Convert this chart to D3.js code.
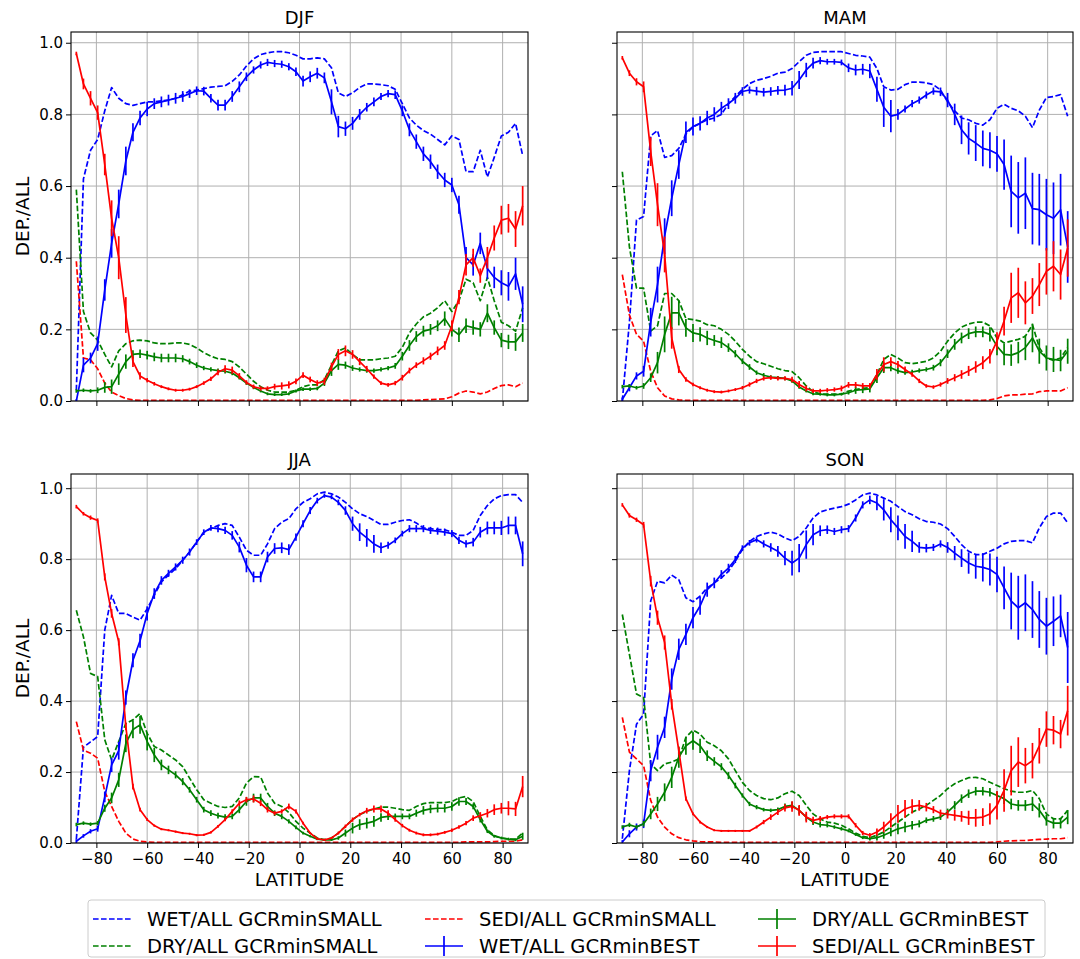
<!DOCTYPE html>
<html>
<head>
<meta charset="utf-8">
<script src="https://cdn.jsdelivr.net/npm/d3@7"></script>
<style>
  body { margin: 0; background: #fff; }
  svg { display: block; }
  text { font-family: "DejaVu Sans", sans-serif; fill: #000; }
</style>
</head>
<body>
<svg id="fig" width="1080" height="959"></svg>
<script>
// ---- latitude grid (Gaussian latitudes, degrees) ----
const latitudes = [-87.9,-85.1,-82.3,-79.5,-76.7,-74.0,-71.2,-68.4,
  -65.6,-62.8,-60.0,-57.2,-54.4,-51.6,-48.8,-46.0,
  -43.3,-40.5,-37.7,-34.9,-32.1,-29.3,-26.5,-23.7,
  -20.9,-18.1,-15.3,-12.6,-9.8,-7.0,-4.2,-1.4,
  1.4,4.2,7.0,9.8,12.6,15.3,18.1,20.9,
  23.7,26.5,29.3,32.1,34.9,37.7,40.5,43.3,
  46.0,48.8,51.6,54.4,57.2,60.0,62.8,65.6,
  68.4,71.2,74.0,76.7,79.5,82.3,85.1,87.9];

const seasons = ["DJF", "MAM", "JJA", "SON"];
const xTicks = [-80, -60, -40, -20, 0, 20, 40, 60, 80];
const yTicks = [0.0, 0.2, 0.4, 0.6, 0.8, 1.0];

// ---- DJF ----
const djfWetSmall = [0.03,0.62,0.70,0.73,0.81,0.875,0.845,0.83,
  0.825,0.83,0.835,0.835,0.838,0.84,0.845,0.855,
  0.865,0.868,0.872,0.876,0.878,0.88,0.892,0.91,
  0.935,0.955,0.967,0.972,0.975,0.975,0.972,0.965,
  0.955,0.955,0.958,0.955,0.93,0.86,0.85,0.86,
  0.875,0.885,0.885,0.883,0.88,0.87,0.83,0.79,
  0.77,0.755,0.745,0.73,0.715,0.74,0.73,0.64,
  0.64,0.70,0.625,0.68,0.74,0.75,0.775,0.685];
const djfDrySmall = [0.59,0.25,0.19,0.17,0.13,0.095,0.14,0.16,
  0.168,0.17,0.168,0.162,0.16,0.16,0.162,0.162,
  0.158,0.148,0.135,0.125,0.118,0.116,0.11,0.095,
  0.075,0.055,0.04,0.03,0.025,0.025,0.025,0.03,
  0.04,0.045,0.045,0.06,0.10,0.14,0.148,0.13,
  0.115,0.115,0.115,0.118,0.12,0.125,0.15,0.19,
  0.215,0.235,0.245,0.26,0.28,0.25,0.28,0.34,
  0.33,0.28,0.345,0.28,0.22,0.21,0.195,0.26];
const djfSediSmall = [0.39,0.12,0.115,0.09,0.05,0.025,0.015,0.007,
  0.003,0.002,0.002,0.002,0.002,0.002,0.002,0.002,
  0.002,0.002,0.002,0.002,0.002,0.002,0.002,0.002,
  0.002,0.002,0.002,0.002,0.002,0.002,0.002,0.002,
  0.002,0.002,0.002,0.002,0.002,0.002,0.002,0.002,
  0.002,0.002,0.002,0.002,0.002,0.002,0.002,0.002,
  0.002,0.003,0.004,0.005,0.006,0.012,0.022,0.028,
  0.025,0.02,0.025,0.035,0.043,0.045,0.04,0.05];
const djfWetBest = [0.0,0.10,0.12,0.16,0.31,0.44,0.55,0.67,
  0.75,0.79,0.815,0.83,0.835,0.84,0.845,0.85,
  0.858,0.866,0.865,0.845,0.826,0.826,0.85,0.877,
  0.905,0.924,0.938,0.945,0.942,0.94,0.933,0.919,
  0.893,0.905,0.915,0.902,0.835,0.766,0.76,0.775,
  0.80,0.82,0.835,0.85,0.858,0.855,0.81,0.757,
  0.724,0.69,0.668,0.64,0.617,0.603,0.548,0.40,
  0.38,0.44,0.37,0.345,0.33,0.32,0.355,0.27];
const djfWetBestErr = [0.005,0.02,0.015,0.02,0.03,0.04,0.04,0.04,
  0.025,0.02,0.02,0.015,0.015,0.015,0.015,0.015,
  0.012,0.012,0.012,0.012,0.015,0.015,0.015,0.015,
  0.012,0.01,0.01,0.01,0.01,0.01,0.01,0.012,
  0.015,0.015,0.015,0.015,0.035,0.03,0.02,0.018,
  0.015,0.012,0.012,0.01,0.01,0.012,0.015,0.018,
  0.02,0.02,0.02,0.02,0.02,0.02,0.025,0.03,
  0.03,0.03,0.03,0.03,0.035,0.04,0.045,0.05];
const djfDryBest = [0.028,0.03,0.028,0.03,0.038,0.04,0.075,0.11,
  0.13,0.132,0.128,0.123,0.12,0.12,0.12,0.118,
  0.11,0.1,0.092,0.088,0.085,0.083,0.078,0.065,
  0.05,0.038,0.028,0.02,0.018,0.018,0.02,0.028,
  0.033,0.033,0.035,0.05,0.085,0.102,0.10,0.092,
  0.088,0.085,0.085,0.088,0.092,0.098,0.125,0.155,
  0.18,0.195,0.2,0.21,0.23,0.2,0.185,0.21,
  0.205,0.2,0.245,0.205,0.17,0.165,0.165,0.19];
const djfDryBestErr = [0.005,0.005,0.005,0.008,0.015,0.02,0.03,0.02,
  0.012,0.012,0.012,0.012,0.012,0.012,0.012,0.01,
  0.008,0.008,0.006,0.006,0.006,0.006,0.006,0.005,
  0.005,0.005,0.004,0.004,0.004,0.004,0.004,0.004,
  0.005,0.005,0.005,0.008,0.015,0.015,0.01,0.008,
  0.006,0.006,0.006,0.006,0.006,0.008,0.012,0.015,
  0.015,0.015,0.015,0.015,0.02,0.02,0.02,0.02,
  0.02,0.02,0.025,0.02,0.02,0.02,0.025,0.025];
const djfSediBest = [0.97,0.885,0.845,0.805,0.66,0.51,0.40,0.24,
  0.11,0.07,0.058,0.048,0.04,0.034,0.03,0.03,
  0.033,0.04,0.05,0.062,0.08,0.09,0.086,0.07,
  0.052,0.04,0.035,0.035,0.04,0.042,0.045,0.055,
  0.072,0.06,0.05,0.055,0.095,0.13,0.14,0.13,
  0.11,0.09,0.068,0.05,0.045,0.05,0.065,0.085,
  0.1,0.112,0.125,0.14,0.155,0.21,0.29,0.38,
  0.40,0.35,0.40,0.455,0.505,0.51,0.48,0.545];
const djfSediBestErr = [0.005,0.015,0.02,0.02,0.03,0.05,0.06,0.05,
  0.015,0.01,0.006,0.005,0.004,0.004,0.004,0.004,
  0.004,0.004,0.005,0.006,0.008,0.01,0.01,0.008,
  0.006,0.006,0.006,0.006,0.008,0.01,0.01,0.008,
  0.008,0.008,0.008,0.01,0.012,0.015,0.015,0.012,
  0.01,0.008,0.006,0.005,0.005,0.006,0.008,0.008,
  0.008,0.01,0.01,0.012,0.012,0.015,0.02,0.03,
  0.025,0.02,0.03,0.035,0.04,0.04,0.05,0.055];

// ---- MAM ----
const mamWetSmall = [0.0,0.22,0.505,0.515,0.74,0.755,0.68,0.685,
  0.705,0.745,0.765,0.775,0.785,0.79,0.80,0.83,
  0.85,0.87,0.886,0.895,0.90,0.906,0.915,0.918,
  0.928,0.947,0.965,0.973,0.975,0.975,0.975,0.975,
  0.97,0.965,0.963,0.96,0.928,0.877,0.868,0.87,
  0.883,0.89,0.89,0.888,0.883,0.868,0.835,0.81,
  0.79,0.785,0.775,0.77,0.785,0.817,0.828,0.817,
  0.81,0.795,0.763,0.812,0.847,0.85,0.855,0.795];
const mamDrySmall = [0.64,0.43,0.315,0.315,0.195,0.21,0.30,0.30,
  0.28,0.23,0.227,0.223,0.213,0.21,0.20,0.186,
  0.167,0.144,0.125,0.11,0.104,0.097,0.09,0.085,
  0.082,0.065,0.042,0.026,0.02,0.019,0.019,0.019,
  0.028,0.032,0.035,0.037,0.074,0.116,0.13,0.12,
  0.107,0.104,0.107,0.111,0.12,0.139,0.167,0.19,
  0.206,0.215,0.22,0.22,0.21,0.176,0.162,0.167,
  0.172,0.181,0.213,0.149,0.12,0.113,0.12,0.149];
const mamSediSmall = [0.353,0.24,0.186,0.167,0.083,0.037,0.014,0.006,
  0.003,0.002,0.002,0.002,0.002,0.002,0.002,0.002,
  0.002,0.002,0.002,0.002,0.002,0.002,0.002,0.002,
  0.002,0.002,0.002,0.002,0.002,0.002,0.002,0.002,
  0.002,0.002,0.002,0.002,0.002,0.002,0.002,0.002,
  0.002,0.002,0.002,0.002,0.002,0.002,0.002,0.002,
  0.002,0.002,0.002,0.002,0.003,0.007,0.014,0.017,
  0.017,0.019,0.02,0.026,0.028,0.028,0.028,0.037];
const mamWetBest = [0.005,0.037,0.07,0.083,0.22,0.325,0.46,0.566,
  0.66,0.75,0.766,0.775,0.79,0.80,0.817,0.83,
  0.845,0.864,0.868,0.865,0.862,0.864,0.867,0.868,
  0.873,0.896,0.924,0.943,0.95,0.947,0.947,0.945,
  0.93,0.924,0.926,0.921,0.87,0.82,0.795,0.80,
  0.815,0.83,0.84,0.854,0.865,0.863,0.84,0.80,
  0.757,0.733,0.72,0.705,0.70,0.69,0.66,0.585,
  0.567,0.58,0.537,0.534,0.52,0.51,0.534,0.43];
const mamWetBestErr = [0.005,0.01,0.01,0.015,0.04,0.05,0.05,0.05,
  0.04,0.03,0.025,0.02,0.02,0.02,0.018,0.015,
  0.015,0.012,0.01,0.012,0.012,0.012,0.012,0.015,
  0.02,0.025,0.02,0.015,0.01,0.008,0.008,0.008,
  0.012,0.015,0.015,0.02,0.035,0.055,0.045,0.015,
  0.01,0.01,0.01,0.01,0.01,0.012,0.02,0.03,
  0.04,0.045,0.05,0.05,0.05,0.05,0.07,0.1,
  0.1,0.1,0.1,0.1,0.1,0.1,0.1,0.1];
const mamDryBest = [0.04,0.042,0.037,0.042,0.065,0.107,0.186,0.246,
  0.246,0.204,0.19,0.186,0.176,0.169,0.163,0.149,
  0.132,0.111,0.095,0.079,0.072,0.067,0.065,0.063,
  0.056,0.039,0.028,0.02,0.019,0.017,0.017,0.019,
  0.023,0.03,0.032,0.034,0.065,0.093,0.093,0.084,
  0.079,0.081,0.085,0.088,0.093,0.107,0.132,0.158,
  0.176,0.188,0.193,0.193,0.186,0.153,0.13,0.128,
  0.135,0.149,0.176,0.139,0.12,0.116,0.113,0.139];
const mamDryBestErr = [0.005,0.005,0.005,0.008,0.012,0.03,0.05,0.045,
  0.035,0.025,0.025,0.02,0.02,0.015,0.015,0.012,
  0.01,0.008,0.008,0.006,0.006,0.005,0.005,0.005,
  0.005,0.005,0.004,0.004,0.004,0.004,0.004,0.004,
  0.005,0.01,0.01,0.01,0.015,0.015,0.01,0.008,
  0.006,0.006,0.006,0.006,0.008,0.01,0.012,0.015,
  0.015,0.015,0.015,0.015,0.02,0.025,0.03,0.03,
  0.03,0.035,0.04,0.035,0.035,0.035,0.03,0.035];
const mamSediBest = [0.958,0.915,0.891,0.877,0.696,0.548,0.409,0.176,
  0.088,0.06,0.046,0.037,0.03,0.026,0.025,0.028,
  0.032,0.037,0.046,0.056,0.063,0.065,0.063,0.063,
  0.06,0.046,0.035,0.028,0.028,0.03,0.032,0.035,
  0.045,0.045,0.042,0.042,0.074,0.102,0.11,0.102,
  0.088,0.074,0.056,0.042,0.039,0.046,0.056,0.065,
  0.074,0.084,0.095,0.107,0.125,0.167,0.223,0.288,
  0.302,0.274,0.293,0.325,0.362,0.376,0.353,0.427];
const mamSediBestErr = [0.005,0.008,0.01,0.015,0.04,0.06,0.05,0.03,
  0.01,0.006,0.005,0.004,0.004,0.004,0.004,0.004,
  0.004,0.005,0.006,0.006,0.006,0.006,0.006,0.006,
  0.008,0.01,0.008,0.006,0.006,0.006,0.006,0.008,
  0.008,0.008,0.008,0.008,0.015,0.02,0.012,0.01,
  0.008,0.006,0.006,0.005,0.005,0.006,0.008,0.01,
  0.012,0.014,0.016,0.018,0.02,0.025,0.04,0.07,
  0.07,0.06,0.05,0.06,0.065,0.07,0.07,0.08];

// ---- JJA ----
const jjaWetSmall = [0.01,0.27,0.285,0.30,0.60,0.698,0.647,0.647,
  0.637,0.628,0.66,0.698,0.736,0.755,0.773,0.797,
  0.82,0.848,0.876,0.886,0.895,0.90,0.895,0.862,
  0.825,0.811,0.811,0.843,0.886,0.904,0.914,0.942,
  0.96,0.97,0.984,0.989,0.984,0.975,0.96,0.942,
  0.928,0.92,0.909,0.898,0.898,0.904,0.909,0.911,
  0.902,0.888,0.886,0.883,0.883,0.876,0.867,0.867,
  0.881,0.923,0.951,0.97,0.979,0.982,0.982,0.96];
const jjaDrySmall = [0.656,0.581,0.478,0.469,0.291,0.234,0.286,0.337,
  0.347,0.365,0.309,0.272,0.262,0.248,0.234,0.215,
  0.183,0.15,0.122,0.112,0.103,0.10,0.103,0.127,
  0.169,0.187,0.186,0.141,0.112,0.103,0.086,0.061,
  0.042,0.028,0.014,0.009,0.014,0.028,0.047,0.066,
  0.08,0.089,0.096,0.101,0.101,0.098,0.094,0.092,
  0.103,0.111,0.114,0.114,0.114,0.117,0.127,0.131,
  0.117,0.075,0.037,0.021,0.014,0.011,0.011,0.028];
const jjaSediSmall = [0.342,0.262,0.253,0.239,0.145,0.103,0.061,0.028,
  0.011,0.005,0.003,0.002,0.002,0.002,0.002,0.002,
  0.002,0.002,0.002,0.002,0.002,0.002,0.002,0.002,
  0.002,0.002,0.002,0.002,0.002,0.002,0.002,0.002,
  0.002,0.002,0.002,0.002,0.002,0.002,0.002,0.002,
  0.002,0.002,0.002,0.002,0.002,0.002,0.002,0.002,
  0.002,0.002,0.002,0.002,0.002,0.002,0.002,0.003,
  0.003,0.003,0.003,0.004,0.005,0.005,0.005,0.009];
const jjaWetBest = [0.005,0.02,0.033,0.04,0.13,0.22,0.26,0.41,
  0.515,0.57,0.647,0.703,0.74,0.76,0.778,0.797,
  0.82,0.848,0.876,0.888,0.886,0.881,0.867,0.834,
  0.783,0.75,0.75,0.806,0.83,0.832,0.827,0.862,
  0.90,0.937,0.965,0.979,0.975,0.96,0.937,0.90,
  0.876,0.86,0.843,0.832,0.839,0.853,0.872,0.886,
  0.886,0.886,0.881,0.879,0.876,0.872,0.853,0.843,
  0.848,0.876,0.888,0.888,0.888,0.895,0.895,0.815];
const jjaWetBestErr = [0.005,0.005,0.006,0.008,0.015,0.02,0.025,0.02,
  0.02,0.02,0.02,0.015,0.012,0.01,0.01,0.01,
  0.01,0.008,0.008,0.008,0.01,0.01,0.012,0.015,
  0.02,0.015,0.015,0.015,0.015,0.015,0.015,0.01,
  0.01,0.01,0.008,0.006,0.006,0.008,0.012,0.02,
  0.025,0.025,0.025,0.015,0.01,0.008,0.008,0.01,
  0.01,0.01,0.01,0.01,0.01,0.01,0.01,0.01,
  0.012,0.015,0.018,0.018,0.02,0.025,0.025,0.035];
const jjaDryBest = [0.052,0.056,0.053,0.056,0.098,0.127,0.178,0.281,
  0.32,0.333,0.286,0.248,0.22,0.206,0.192,0.173,
  0.15,0.122,0.094,0.084,0.077,0.073,0.075,0.094,
  0.117,0.127,0.127,0.103,0.084,0.075,0.061,0.044,
  0.028,0.019,0.011,0.009,0.009,0.014,0.028,0.042,
  0.052,0.056,0.061,0.072,0.075,0.075,0.075,0.075,
  0.084,0.092,0.096,0.098,0.098,0.103,0.117,0.117,
  0.103,0.066,0.033,0.019,0.014,0.011,0.009,0.019];
const jjaDryBestErr = [0.005,0.005,0.005,0.006,0.01,0.015,0.02,0.025,
  0.025,0.025,0.025,0.02,0.015,0.012,0.01,0.01,
  0.008,0.008,0.008,0.008,0.008,0.008,0.008,0.01,
  0.012,0.012,0.012,0.01,0.008,0.008,0.006,0.005,
  0.004,0.003,0.003,0.003,0.003,0.005,0.01,0.015,
  0.015,0.015,0.015,0.012,0.01,0.008,0.008,0.008,
  0.01,0.012,0.012,0.012,0.012,0.012,0.012,0.01,
  0.008,0.008,0.005,0.004,0.004,0.004,0.004,0.01];
const jjaSediBest = [0.948,0.928,0.917,0.909,0.75,0.647,0.567,0.328,
  0.159,0.094,0.066,0.049,0.039,0.036,0.032,0.028,
  0.026,0.022,0.023,0.03,0.047,0.066,0.089,0.112,
  0.122,0.124,0.112,0.094,0.084,0.089,0.103,0.089,
  0.056,0.028,0.012,0.009,0.014,0.028,0.047,0.066,
  0.08,0.091,0.096,0.096,0.084,0.066,0.049,0.036,
  0.028,0.023,0.023,0.025,0.03,0.036,0.045,0.056,
  0.07,0.077,0.084,0.094,0.098,0.098,0.096,0.159];
const jjaSediBestErr = [0.005,0.005,0.006,0.006,0.01,0.012,0.01,0.01,
  0.008,0.005,0.004,0.003,0.003,0.003,0.003,0.003,
  0.003,0.003,0.003,0.003,0.004,0.005,0.006,0.008,
  0.008,0.01,0.008,0.008,0.006,0.006,0.008,0.006,
  0.004,0.003,0.003,0.003,0.003,0.004,0.005,0.006,
  0.005,0.008,0.01,0.01,0.008,0.006,0.005,0.004,
  0.004,0.004,0.004,0.004,0.004,0.005,0.005,0.006,
  0.008,0.01,0.012,0.015,0.015,0.02,0.02,0.03];

// ---- SON ----
const sonWetSmall = [0.012,0.204,0.335,0.363,0.682,0.738,0.733,0.755,
  0.742,0.691,0.68,0.696,0.719,0.733,0.747,0.766,
  0.794,0.827,0.85,0.864,0.871,0.876,0.871,0.86,
  0.852,0.864,0.888,0.916,0.933,0.939,0.944,0.948,
  0.955,0.967,0.981,0.986,0.981,0.972,0.963,0.948,
  0.934,0.925,0.914,0.906,0.904,0.899,0.886,0.864,
  0.841,0.822,0.813,0.813,0.822,0.831,0.843,0.85,
  0.852,0.852,0.846,0.888,0.92,0.93,0.93,0.902];
const sonDrySmall = [0.644,0.532,0.42,0.41,0.223,0.204,0.223,0.228,
  0.237,0.298,0.318,0.307,0.284,0.274,0.26,0.237,
  0.204,0.171,0.148,0.134,0.125,0.122,0.127,0.139,
  0.146,0.134,0.106,0.082,0.068,0.059,0.056,0.05,
  0.04,0.028,0.019,0.015,0.022,0.031,0.045,0.059,
  0.073,0.087,0.096,0.106,0.12,0.134,0.153,0.167,
  0.176,0.184,0.185,0.181,0.171,0.162,0.153,0.146,
  0.143,0.143,0.148,0.125,0.082,0.068,0.068,0.092];
const sonSediSmall = [0.354,0.256,0.237,0.218,0.12,0.073,0.045,0.026,
  0.015,0.009,0.006,0.004,0.003,0.003,0.002,0.002,
  0.002,0.002,0.002,0.002,0.002,0.002,0.002,0.002,
  0.002,0.002,0.002,0.002,0.002,0.002,0.002,0.002,
  0.002,0.002,0.002,0.002,0.002,0.002,0.002,0.002,
  0.002,0.002,0.002,0.002,0.002,0.002,0.002,0.002,
  0.002,0.002,0.002,0.002,0.002,0.003,0.005,0.006,
  0.007,0.007,0.009,0.01,0.011,0.012,0.012,0.015];
const sonWetBest = [0.003,0.026,0.045,0.054,0.204,0.27,0.326,0.462,
  0.546,0.588,0.635,0.668,0.714,0.733,0.757,0.775,
  0.799,0.831,0.846,0.855,0.843,0.833,0.822,0.803,
  0.789,0.803,0.841,0.869,0.88,0.883,0.878,0.883,
  0.886,0.916,0.953,0.967,0.958,0.939,0.911,0.888,
  0.864,0.85,0.833,0.831,0.833,0.843,0.833,0.817,
  0.803,0.789,0.78,0.777,0.771,0.757,0.719,0.682,
  0.663,0.677,0.658,0.63,0.611,0.625,0.64,0.551];
const sonWetBestErr = [0.005,0.01,0.01,0.012,0.03,0.035,0.03,0.03,
  0.03,0.03,0.03,0.025,0.02,0.015,0.012,0.012,
  0.01,0.008,0.008,0.008,0.01,0.012,0.015,0.02,
  0.035,0.04,0.04,0.03,0.015,0.012,0.01,0.01,
  0.01,0.01,0.01,0.012,0.02,0.03,0.035,0.035,
  0.035,0.03,0.015,0.012,0.01,0.01,0.015,0.02,
  0.025,0.03,0.035,0.04,0.045,0.05,0.06,0.08,
  0.09,0.08,0.08,0.08,0.08,0.07,0.06,0.1];
const sonDryBest = [0.045,0.051,0.045,0.054,0.082,0.11,0.143,0.185,
  0.242,0.274,0.288,0.274,0.246,0.23,0.215,0.19,
  0.162,0.134,0.11,0.101,0.094,0.092,0.094,0.103,
  0.106,0.092,0.073,0.059,0.052,0.05,0.045,0.04,
  0.034,0.024,0.015,0.012,0.015,0.022,0.031,0.04,
  0.045,0.05,0.054,0.064,0.068,0.073,0.087,0.106,
  0.125,0.139,0.146,0.146,0.143,0.134,0.125,0.11,
  0.106,0.106,0.11,0.092,0.064,0.056,0.056,0.073];
const sonDryBestErr = [0.005,0.006,0.006,0.008,0.015,0.02,0.025,0.03,
  0.03,0.025,0.025,0.02,0.015,0.012,0.01,0.01,
  0.008,0.006,0.006,0.006,0.005,0.005,0.006,0.008,
  0.01,0.012,0.01,0.008,0.008,0.006,0.005,0.005,
  0.004,0.004,0.004,0.005,0.008,0.01,0.012,0.015,
  0.015,0.012,0.01,0.008,0.008,0.008,0.01,0.012,
  0.012,0.012,0.012,0.012,0.012,0.012,0.015,0.015,
  0.015,0.015,0.02,0.02,0.015,0.015,0.015,0.02];
const sonSediBest = [0.953,0.923,0.911,0.897,0.738,0.635,0.565,0.391,
  0.26,0.125,0.082,0.059,0.045,0.036,0.034,0.034,
  0.034,0.034,0.034,0.045,0.059,0.073,0.087,0.099,
  0.103,0.092,0.073,0.064,0.068,0.073,0.075,0.075,
  0.075,0.05,0.028,0.022,0.031,0.045,0.064,0.082,
  0.096,0.103,0.106,0.101,0.094,0.084,0.081,0.078,
  0.075,0.071,0.071,0.073,0.082,0.106,0.148,0.204,
  0.228,0.218,0.232,0.274,0.321,0.318,0.307,0.373];
const sonSediBestErr = [0.005,0.006,0.006,0.008,0.015,0.02,0.02,0.015,
  0.01,0.006,0.004,0.004,0.003,0.003,0.003,0.003,
  0.003,0.003,0.003,0.004,0.006,0.008,0.008,0.01,
  0.015,0.015,0.015,0.01,0.008,0.006,0.006,0.006,
  0.006,0.006,0.006,0.006,0.01,0.015,0.02,0.025,
  0.025,0.02,0.015,0.012,0.01,0.01,0.012,0.015,
  0.015,0.02,0.025,0.025,0.03,0.04,0.06,0.07,
  0.07,0.05,0.05,0.05,0.05,0.04,0.04,0.07];

// ---- series styling and legend labels ----
const BLUE = "#0000ff", GREEN = "#008000", RED = "#ff0000";
const seriesStyle = [
  { key: "wetSmall",  label: "WET/ALL GCRminSMALL",  color: BLUE,  dashed: true },
  { key: "drySmall",  label: "DRY/ALL GCRminSMALL",  color: GREEN, dashed: true },
  { key: "sediSmall", label: "SEDI/ALL GCRminSMALL", color: RED,   dashed: true },
  { key: "wetBest",   label: "WET/ALL GCRminBEST",   color: BLUE,  dashed: false },
  { key: "dryBest",   label: "DRY/ALL GCRminBEST",   color: GREEN, dashed: false },
  { key: "sediBest",  label: "SEDI/ALL GCRminBEST",  color: RED,   dashed: false }
];

const seasonData = {
  DJF: { wetSmall: djfWetSmall, drySmall: djfDrySmall, sediSmall: djfSediSmall,
         wetBest: djfWetBest, wetBestErr: djfWetBestErr, dryBest: djfDryBest, dryBestErr: djfDryBestErr,
         sediBest: djfSediBest, sediBestErr: djfSediBestErr },
  MAM: { wetSmall: mamWetSmall, drySmall: mamDrySmall, sediSmall: mamSediSmall,
         wetBest: mamWetBest, wetBestErr: mamWetBestErr, dryBest: mamDryBest, dryBestErr: mamDryBestErr,
         sediBest: mamSediBest, sediBestErr: mamSediBestErr },
  JJA: { wetSmall: jjaWetSmall, drySmall: jjaDrySmall, sediSmall: jjaSediSmall,
         wetBest: jjaWetBest, wetBestErr: jjaWetBestErr, dryBest: jjaDryBest, dryBestErr: jjaDryBestErr,
         sediBest: jjaSediBest, sediBestErr: jjaSediBestErr },
  SON: { wetSmall: sonWetSmall, drySmall: sonDrySmall, sediSmall: sonSediSmall,
         wetBest: sonWetBest, wetBestErr: sonWetBestErr, dryBest: sonDryBest, dryBestErr: sonDryBestErr,
         sediBest: sonSediBest, sediBestErr: sonSediBestErr }
};

// ---- layout of the 2x2 grid ----
const panelLayout = [
  { box: [71, 32, 528, 401],   ymax: 1.03, row: 0, col: 0 },
  { box: [617, 32, 1073, 401], ymax: 1.03, row: 0, col: 1 },
  { box: [71, 474, 528, 843],  ymax: 1.04, row: 1, col: 0 },
  { box: [617, 474, 1073, 843], ymax: 1.04, row: 1, col: 1 }
];

const svg = d3.select("#fig");
const LW = 1.7;
const DASH = "5.6,2.4";

seasons.forEach((season, i) => {
  const L = panelLayout[i];
  const [x0, y0, x1, y1] = L.box;
  const data = seasonData[season];
  const x = d3.scaleLinear().domain([-90, 90]).range([x0, x1]);
  const y = d3.scaleLinear().domain([0, L.ymax]).range([y1, y0]);
  const g = svg.append("g");

  // grid
  g.append("g").selectAll("line").data(xTicks).join("line")
    .attr("x1", d => x(d)).attr("x2", d => x(d)).attr("y1", y0).attr("y2", y1)
    .attr("stroke", "#b0b0b0").attr("stroke-width", 1);
  g.append("g").selectAll("line").data(yTicks).join("line")
    .attr("x1", x0).attr("x2", x1).attr("y1", d => y(d)).attr("y2", d => y(d))
    .attr("stroke", "#b0b0b0").attr("stroke-width", 1);

  // clip to the axes box
  const clipId = "clip-" + season;
  svg.append("clipPath").attr("id", clipId).append("rect")
    .attr("x", x0).attr("y", y0).attr("width", x1 - x0).attr("height", y1 - y0);
  const plot = g.append("g").attr("clip-path", `url(#${clipId})`);

  const line = d3.line().x((d, k) => x(latitudes[k])).y(d => y(d));

  seriesStyle.forEach(s => {
    const vals = data[s.key];
    if (!s.dashed) {
      const err = data[s.key + "Err"];
      plot.append("g").selectAll("line").data(vals).join("line")
        .attr("x1", (d, k) => x(latitudes[k])).attr("x2", (d, k) => x(latitudes[k]))
        .attr("y1", (d, k) => y(d - err[k])).attr("y2", (d, k) => y(d + err[k]))
        .attr("stroke", s.color).attr("stroke-width", LW);
    }
    plot.append("path").datum(vals)
      .attr("d", line)
      .attr("fill", "none")
      .attr("stroke", s.color)
      .attr("stroke-width", LW)
      .attr("stroke-linejoin", "round")
      .attr("stroke-dasharray", s.dashed ? DASH : null);
  });

  // axes
  const xAxis = d3.axisBottom(x).tickValues(xTicks).tickSize(5).tickPadding(5)
    .tickFormat(L.row === 1 ? d3.format("d") : () => "");
  const yAxis = d3.axisLeft(y).tickValues(yTicks).tickSize(5).tickPadding(3)
    .tickFormat(L.col === 0 ? d3.format(".1f") : () => "");
  const gx = g.append("g").attr("transform", `translate(0,${y1})`).call(xAxis);
  const gy = g.append("g").attr("transform", `translate(${x0},0)`).call(yAxis);
  [gx, gy].forEach(a => {
    a.select(".domain").remove();
    a.selectAll(".tick line").attr("stroke", "#000").attr("stroke-width", 1);
    a.selectAll(".tick text").attr("font-size", 15).attr("fill", "#000")
      .attr("font-family", "DejaVu Sans, sans-serif");
  });

  // frame
  g.append("rect").attr("x", x0).attr("y", y0).attr("width", x1 - x0).attr("height", y1 - y0)
    .attr("fill", "none").attr("stroke", "#000").attr("stroke-width", 1.1);

  // titles and axis labels
  g.append("text").attr("x", (x0 + x1) / 2).attr("y", y0 - 8)
    .attr("text-anchor", "middle").attr("font-size", 18).text(season);
  if (L.col === 0) {
    g.append("text")
      .attr("transform", `translate(29,${(y0 + y1) / 2}) rotate(-90)`)
      .attr("text-anchor", "middle").attr("font-size", 18.5).text("DEP./ALL");
  }
  if (L.row === 1) {
    g.append("text").attr("x", (x0 + x1) / 2).attr("y", 886)
      .attr("text-anchor", "middle").attr("font-size", 18.5).text("LATITUDE");
  }
});

// ---- legend (3 columns, column-major order) ----
const legendFont = 19.5;
const legend = svg.append("g");
legend.append("rect").attr("x", 88).attr("y", 900).attr("width", 957).attr("height", 57)
  .attr("rx", 3).attr("fill", "#fff").attr("fill-opacity", 0.8)
  .attr("stroke", "#cccccc").attr("stroke-width", 1);
const colX = [93, 425, 758];
const rowY = [919, 946];
seriesStyle.forEach((s, k) => {
  const cx = colX[Math.floor(k / 2)], cy = rowY[k % 2];
  const item = legend.append("g");
  item.append("line").attr("x1", cx).attr("x2", cx + 38).attr("y1", cy).attr("y2", cy)
    .attr("stroke", s.color).attr("stroke-width", LW)
    .attr("stroke-dasharray", s.dashed ? DASH : null);
  if (!s.dashed) {
    item.append("line").attr("x1", cx + 19).attr("x2", cx + 19).attr("y1", cy - 10).attr("y2", cy + 10)
      .attr("stroke", s.color).attr("stroke-width", LW);
  }
  item.append("text").attr("x", cx + 54).attr("y", cy).attr("dy", "0.36em")
    .attr("font-size", legendFont).text(s.label);
});
</script>
</body>
</html>
